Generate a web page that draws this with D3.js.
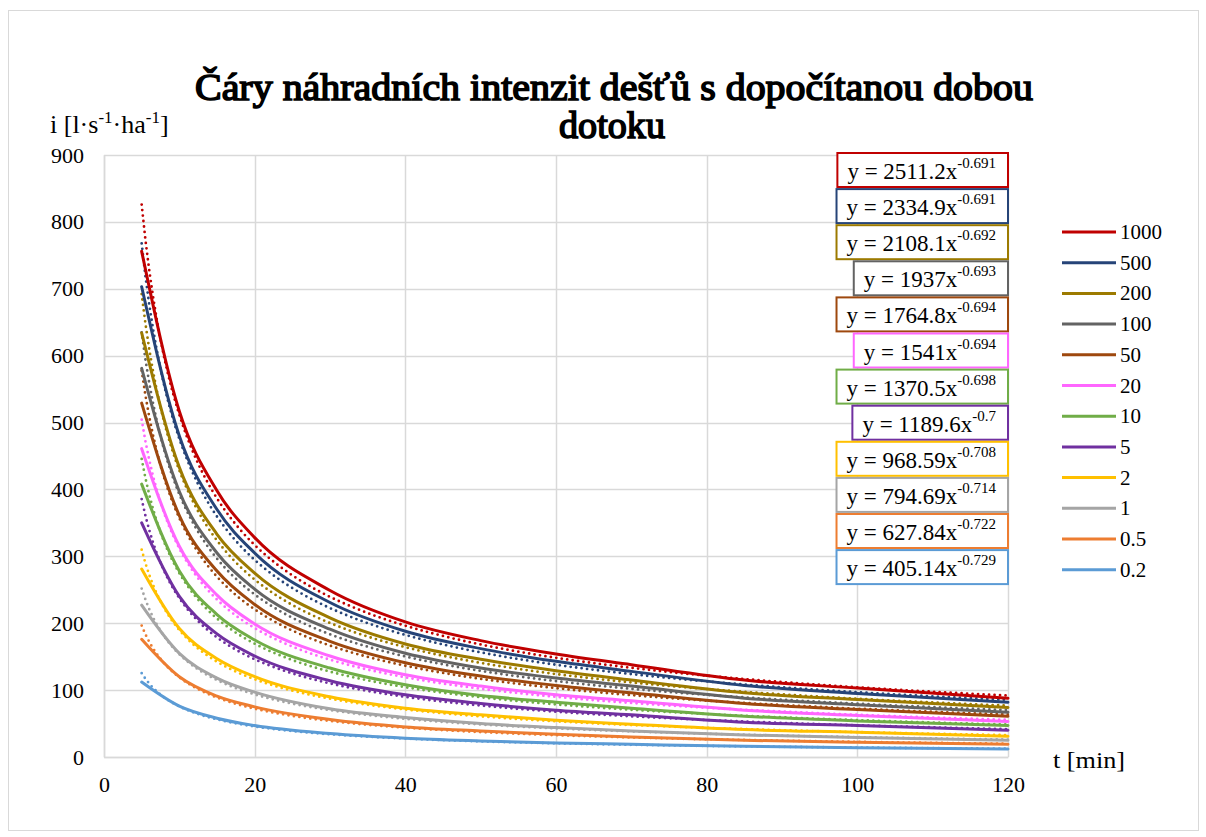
<!DOCTYPE html>
<html><head><meta charset="utf-8">
<script src="https://cdn.jsdelivr.net/npm/d3@7"></script>
<style>
html,body{margin:0;padding:0;background:#fff;}
svg text{font-family:"Liberation Serif","DejaVu Serif","Noto Serif",serif !important;fill:#000;}
</style></head>
<body><svg id="chart" width="1206" height="837"></svg>
<script>
// ---- data ----
const durations = [5,10,15,20,30,40,50,60,70,85,100,120];
const seriesNames = ["1000","500","200","100","50","20","10","5","2","1","0.5","0.2"];
const seriesColors = ["#C00000","#264478","#9C7A00","#636363","#9E480E","#FF66FF","#70AD47","#7030A0","#FFC000","#A5A5A5","#ED7D31","#5B9BD5"];
const s1000 = [756,517,398,328,249,202,174,154,138,115,103,88];
const s500  = [703,480,370,305,231,188,162,143,128,107,95,82];
const s200  = [634,433,333,275,208,169,146,129,115,96,86,74];
const s100  = [581,397,305,251,191,155,133,118,106,88,78,67];
const s50   = [529,361,278,228,173,141,121,107,96,80,71,61];
const s20   = [461,315,242,199,151,123,106,93,84,70,62,53];
const s10   = [408,278,213,175,133,108,92,82,73,61,54,47];
const s5    = [350,240,184,151,114,93,80,70,63,52,47,40];
const s2    = [281,192,147,120,90,73,63,55,49,41,37,31];
const s1    = [227,155,118,97,72,59,50,44,39,33,29,25];
const s05   = [176,120,91,75,56,45,39,34,30,25,22,19];
const s02   = [112,76,58,47,35,28,24,21,19,16,14,12];
const seriesValues = [s1000,s500,s200,s100,s50,s20,s10,s5,s2,s1,s05,s02];
// power trendlines y = a * x^b (from the equation labels)
const trendA = [2511.2,2334.9,2108.1,1937,1764.8,1541,1370.5,1189.6,968.59,794.69,627.84,405.14];
const trendB = [-0.691,-0.691,-0.692,-0.693,-0.694,-0.694,-0.698,-0.7,-0.708,-0.714,-0.722,-0.729];
const trendLabelA = ["2511.2","2334.9","2108.1","1937","1764.8","1541","1370.5","1189.6","968.59","794.69","627.84","405.14"];
const trendLabelB = ["-0.691","-0.691","-0.692","-0.693","-0.694","-0.694","-0.698","-0.7","-0.708","-0.714","-0.722","-0.729"];
const xTicks = [0,20,40,60,80,100,120];
const yTicks = [0,100,200,300,400,500,600,700,800,900];
const titleLines = ["Čáry náhradních  intenzit dešťů s dopočítanou dobou","dotoku"];

// ---- layout ----
const svg = d3.select("#chart");
const L = 104, R = 1008, T = 155, B = 757;
const SERIF = "'Liberation Serif', serif";
const x = d3.scaleLinear().domain([0,120]).range([L,R]);
const y = d3.scaleLinear().domain([0,900]).range([B,T]);

svg.append("rect").attr("x",8.5).attr("y",10.5).attr("width",1190).attr("height",820)
  .attr("fill","#fff").attr("stroke","#d9d9d9").attr("stroke-width",1);

// gridlines
const grid = svg.append("g");
grid.selectAll(".hg").data(yTicks).join("line")
  .attr("x1",L).attr("x2",R).attr("y1",d=>Math.round(y(d))+0.5).attr("y2",d=>Math.round(y(d))+0.5)
  .attr("stroke","#d9d9d9").attr("stroke-width",1.5);
grid.selectAll(".vg").data(xTicks).join("line")
  .attr("y1",T).attr("y2",B).attr("x1",d=>Math.round(x(d))+0.5).attr("x2",d=>Math.round(x(d))+0.5)
  .attr("stroke","#d9d9d9").attr("stroke-width",1.5);

// axes via d3
const yAxis = svg.append("g").attr("transform",`translate(${L},0)`)
  .call(d3.axisLeft(y).tickValues(yTicks).tickSize(0).tickPadding(20));
const xAxis = svg.append("g").attr("transform",`translate(0,${B})`)
  .call(d3.axisBottom(x).tickValues(xTicks).tickSize(0).tickPadding(19));
[yAxis,xAxis].forEach(a=>{
  a.attr("font-family",SERIF);
  a.select(".domain").attr("stroke","#d9d9d9").attr("stroke-width",1.5);
  a.selectAll("text").attr("font-size",22).style("font-family",SERIF).attr("fill","#000");
});

// trendlines (dotted)
const tx = d3.range(5,120.01,0.5);
const lineGen = d3.line().x(d=>x(d[0])).y(d=>y(d[1]));
seriesNames.forEach((n,i)=>{
  svg.append("path")
    .datum(tx.map(t=>[t, trendA[i]*Math.pow(t,trendB[i])]))
    .attr("d",lineGen).attr("fill","none")
    .attr("stroke",seriesColors[i]).attr("stroke-width",2.8)
    .attr("stroke-linecap","round").attr("stroke-dasharray","0,5.5");
});

// data lines
const dataLine = d3.line().x(d=>x(d[0])).y(d=>y(d[1])).curve(d3.curveMonotoneX);
seriesNames.forEach((n,i)=>{
  svg.append("path")
    .datum(durations.map((t,j)=>[t, seriesValues[i][j]]))
    .attr("d",dataLine).attr("fill","none")
    .attr("stroke",seriesColors[i]).attr("stroke-width",3)
    .attr("stroke-linejoin","round").attr("stroke-linecap","round");
});

// title (faux bold serif, one text element with two lines)
const title = svg.append("text").attr("text-anchor","middle")
  .attr("font-size",38).attr("stroke","#000").attr("stroke-width",1.6);
title.append("tspan").attr("x",614).attr("y",100)
  .attr("textLength",838).attr("lengthAdjust","spacingAndGlyphs").text(titleLines[0]);
title.append("tspan").attr("x",612).attr("y",138)
  .attr("textLength",106).attr("lengthAdjust","spacingAndGlyphs").text(titleLines[1]);

// y axis title
const yt = svg.append("text").attr("x",50).attr("y",133).attr("font-size",26);
yt.append("tspan").text("i [l·s");
yt.append("tspan").attr("dy",-10).attr("font-size",17).text("-1");
yt.append("tspan").attr("dy",10).text("·ha");
yt.append("tspan").attr("dy",-10).attr("font-size",17).text("-1");
yt.append("tspan").attr("dy",10).text("]");

// x axis title
svg.append("text").attr("x",1053).attr("y",768).attr("font-size",24)
  .attr("textLength",72).attr("lengthAdjust","spacingAndGlyphs").text("t [min]");

// equation boxes
const boxTop0 = 153, boxStep = 36.1, boxH = 34;
seriesNames.forEach((n,i)=>{
  const g = svg.append("g");
  const top = boxTop0 + i*boxStep;
  const rect = g.append("rect");
  const t = g.append("text").attr("y",top+26).attr("font-size",23);
  t.append("tspan").text(`y = ${trendLabelA[i]}x`);
  t.append("tspan").attr("dy",-11).attr("font-size",15).text(trendLabelB[i]);
  const w = t.node().getComputedTextLength();
  const bw = w + 22;
  const bx = R - bw;
  t.attr("x",bx+10);
  rect.attr("x",bx).attr("y",top).attr("width",bw).attr("height",boxH)
    .attr("fill","#fff").attr("stroke",seriesColors[i]).attr("stroke-width",2);
});

// legend
seriesNames.forEach((n,i)=>{
  const ly = 232 + i*30.7;
  svg.append("line").attr("x1",1062).attr("x2",1116).attr("y1",ly).attr("y2",ly)
    .attr("stroke",seriesColors[i]).attr("stroke-width",3);
  svg.append("text").attr("x",1120).attr("y",ly+7).attr("font-size",21).text(n);
});
</script></body></html>
